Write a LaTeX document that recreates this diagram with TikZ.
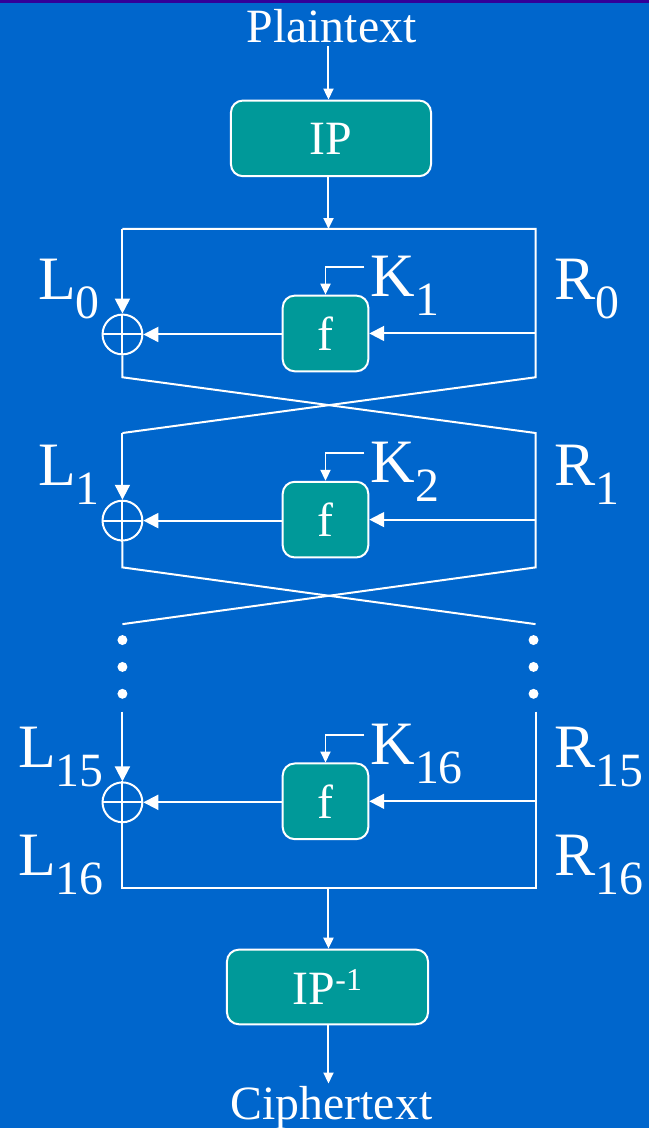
\documentclass[tikz,border=0pt]{standalone}
\usepackage{fontspec}
\setmainfont{Liberation Serif}
\usetikzlibrary{arrows.meta}
\definecolor{slideBlue}{RGB}{0,102,204}
\definecolor{slideBand}{RGB}{51,0,153}
\definecolor{boxTeal}{RGB}{0,153,153}
\newcommand{\subl}[2]{#1\raisebox{-19pt}{\fontsize{48}{48}\selectfont #2}}

\begin{document}
\begin{tikzpicture}[x=1pt, y=-1pt,
  wire/.style={draw=white, line width=2pt},
  arr/.style={wire, -{Triangle[length=11pt, width=10pt]}},
  bigarr/.style={wire, -{Triangle[length=15pt, width=15pt]}},
  box/.style={draw=white, line width=2pt, fill=boxTeal, rounded corners=12pt,
    text=white, font=\fontsize{48}{48}\selectfont, inner sep=0pt},
  xor/.style={circle, draw=white, line width=2pt, minimum size=40pt, inner sep=0pt},
  lbl/.style={text=white, font=\fontsize{62}{62}\selectfont, anchor=base west, inner sep=0pt},
  title/.style={text=white, font=\fontsize{48}{48}\selectfont, inner sep=3pt, anchor=base}]
  \fill[slideBlue] (0,0) rectangle (652,1133);
  \fill[slideBand] (0,0) rectangle (652,3);

  \node[title] (plain) at (333,43) {Plaintext};
  \node[box, minimum width=201pt, minimum height=76pt] (ip) at (332.5,139) {IP};
  \coordinate (top) at (330,230);
  \draw[arr] (plain.south -| top) -- (ip.north -| top);
  \draw[arr] (ip.south -| top) -- (top);

  % rounds 1, 2 and 16
  \foreach \i/\y/\lx in {0/336/38, 1/523/38, 15/806/18} {
    \pgfmathtruncatemacro{\k}{\i+1}
    \node[xor] (x\i) at (123,\y) {};
    \draw[wire] (x\i.north) -- (x\i.south) (x\i.west) -- (x\i.east);
    \node[box, minimum width=86pt, minimum height=76pt] (f\i) at (327,\y-1) {f};
    \coordinate (k\i) at (366,\y-68);
    \coordinate (r\i) at (538,\y-1);
    \draw[arr] (k\i) -| (f\i.north);
    \draw[bigarr] (r\i) -- (f\i.east);
    \draw[bigarr] (f\i.west |- x\i) -- (x\i.east);
    \node[lbl] (kl\i) at (372,\y-38) {\subl{K}{\k}};
    \node[lbl] (ll\i) at (\lx,\y-35) {\subl{L}{\i}};
    \node[lbl] (rl\i) at (557,\y-35) {\subl{R}{\i}};
  }
  \node[lbl] (ll16) at (18,880) {\subl{L}{16}};
  \node[lbl] (rl16) at (557,880) {\subl{R}{16}};

  \foreach \j/\a/\b in {0/379/435, 1/570/627} {
    \coordinate (cl\j) at (123,\a);
    \coordinate (cr\j) at (538,\a);
    \coordinate (dl\j) at (123,\b);
    \coordinate (dr\j) at (538,\b);
  }
  \coordinate (tl) at (123,230);
  \coordinate (tr) at (538,230);
  \draw[wire] (tl) -- (tr) -- (cr0) -- (dl0);
  \draw[bigarr] (tl) -- (x0.north);
  \draw[wire] (x0.south) -- (cl0) -- (dr0) -- (cr1) -- (dl1);
  \draw[bigarr] (dl0) -- (x1.north);
  \draw[wire] (x1.south) -- (cl1) -- (dr1);

  \foreach \y in {643,670,697}
    \foreach \x in {123,536}
      \fill[white] (\x,\y) circle (5pt);

  \coordinate (el) at (123,715);
  \coordinate (er) at (538,715);
  \coordinate (bl) at (123,892);
  \coordinate (br) at (538,892);
  \coordinate (bm) at (330,892);
  \draw[bigarr] (el) -- (x15.north);
  \draw[wire] (er) -- (br) -- (bl) -- (x15.south);

  \node[box, minimum width=202pt, minimum height=75pt] (ipinv) at (329,991.5)
    {IP\raisebox{14pt}{\fontsize{32}{32}\selectfont -1}};
  \node[title] (cipher) at (333,1125) {Ciphertext};
  \draw[arr] (bm) -- (bm |- ipinv.north);
  \draw[arr] (ipinv.south -| bm) -- (cipher.north -| bm);
\end{tikzpicture}
\end{document}
